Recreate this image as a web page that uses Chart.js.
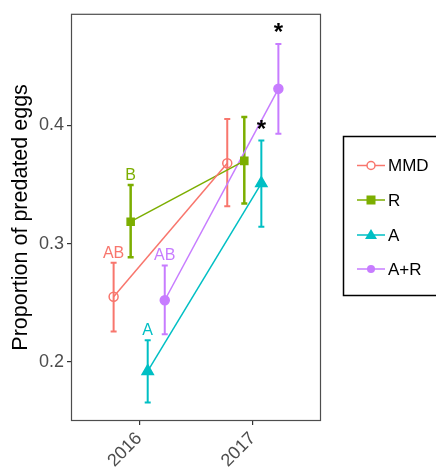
<!DOCTYPE html>
<html>
<head>
<meta charset="utf-8">
<script src="https://cdn.jsdelivr.net/npm/chart.js@4/dist/chart.umd.min.js"></script>
<style>
  html, body { margin: 0; padding: 0; background: #fff; }
  #wrap { width: 436px; height: 468px; }
</style>
</head>
<body>
<div id="wrap"><canvas id="chart" width="436" height="468"></canvas></div>
<script>
// -------------------- DATA --------------------
const years = ["2016", "2017"];
const groups = ["MMD", "R", "A", "A+R"];
const colors = ["#F8766D", "#7CAE00", "#00BFC4", "#C77CFF"];
const dodge = [-0.225, -0.075, 0.075, 0.225];

const meanMMD = [0.255, 0.368];
const meanR   = [0.3185, 0.370];
const meanA   = [0.192, 0.351];
const meanAR  = [0.252, 0.431];

const lowMMD = [0.2255, 0.3315];
const lowR   = [0.2885, 0.334];
const lowA   = [0.1655, 0.3143];
const lowAR  = [0.2233, 0.393];

const highMMD = [0.2838, 0.4055];
const highR   = [0.3496, 0.4071];
const highA   = [0.2182, 0.3872];
const highAR  = [0.2815, 0.469];

// letters over 2016, stars over 2017
const letters2016 = ["AB", "B", "A", "AB"];
const stars2017 = ["", "", "*", "*"];

const yTicks = [0.2, 0.3, 0.4];

const means = [meanMMD, meanR, meanA, meanAR];
const lows = [lowMMD, lowR, lowA, lowAR];
const highs = [highMMD, highR, highA, highAR];
const pointStyles = ["circle", "rect", "triangle", "circle"];
const filled = [false, true, true, true];

const FONT = "'Liberation Sans', Arial, sans-serif";

// -------------------- DATASETS --------------------
const datasets = groups.map((g, i) => ({
  label: g,
  data: years.map((y, j) => ({ x: j + dodge[i], y: means[i][j], lo: lows[i][j], hi: highs[i][j] })),
  showLine: true,
  borderColor: colors[i],
  borderWidth: 1.5,
  backgroundColor: filled[i] ? colors[i] : "#ffffff",
  pointStyle: pointStyles[i],
  pointRadius: i === 1 ? 5 : i === 2 ? 6.5 : 4.5,
  pointBorderWidth: 1.5,
  pointBorderColor: colors[i],
  pointBackgroundColor: filled[i] ? colors[i] : "rgba(0,0,0,0)",
}));

// -------------------- PLUGINS --------------------
const errorBars = {
  id: "errorBars",
  beforeDatasetsDraw(chart) {
    const { ctx, scales: { x, y } } = chart;
    ctx.save();
    chart.data.datasets.forEach((ds, i) => {
      ctx.strokeStyle = colors[i];
      ctx.lineWidth = i === 1 ? 2.5 : 2;
      ds.data.forEach((p) => {
        const px = x.getPixelForValue(p.x);
        const top = y.getPixelForValue(p.hi);
        const bot = y.getPixelForValue(p.lo);
        ctx.beginPath();
        ctx.moveTo(px, top); ctx.lineTo(px, bot);
        ctx.moveTo(px - 3, top); ctx.lineTo(px + 3, top);
        ctx.moveTo(px - 3, bot); ctx.lineTo(px + 3, bot);
        ctx.stroke();
      });
    });
    ctx.restore();
  },
};

const annotations = {
  id: "annotations",
  afterDatasetsDraw(chart) {
    const { ctx, scales: { x, y } } = chart;
    ctx.save();
    ctx.textAlign = "center";
    ctx.textBaseline = "alphabetic";
    chart.data.datasets.forEach((ds, i) => {
      const p0 = ds.data[0];
      if (letters2016[i]) {
        ctx.fillStyle = colors[i];
        ctx.font = "16px " + FONT;
        ctx.fillText(letters2016[i], x.getPixelForValue(p0.x), y.getPixelForValue(p0.hi) - 5);
      }
      const p1 = ds.data[1];
      if (stars2017[i]) {
        ctx.fillStyle = "#000";
        ctx.font = "bold 24px " + FONT;
        ctx.fillText(stars2017[i], x.getPixelForValue(p1.x), y.getPixelForValue(p1.hi) - 4);
      }
    });
    // panel border
    const a = chart.chartArea;
    ctx.strokeStyle = "#4d4d4d";
    ctx.lineWidth = 1.2;
    ctx.strokeRect(a.left + 0.5, a.top + 0.5, a.right - a.left - 1, a.bottom - a.top - 1);
    ctx.restore();
  },
};

const sideLegend = {
  id: "sideLegend",
  afterDraw(chart) {
    const { ctx } = chart;
    ctx.save();
    ctx.strokeStyle = "#000";
    ctx.lineWidth = 1.5;
    ctx.strokeRect(343.5, 136.5, 100, 159);
    const rowY = [165.5, 200, 235, 269];
    chart.data.datasets.forEach((ds, i) => {
      const yy = rowY[i];
      ctx.strokeStyle = colors[i];
      ctx.lineWidth = 1.5;
      ctx.beginPath();
      ctx.moveTo(357, yy); ctx.lineTo(385, yy);
      ctx.stroke();
      ctx.fillStyle = colors[i];
      ctx.beginPath();
      if (i === 0) {
        ctx.arc(371, yy, 4, 0, Math.PI * 2);
        ctx.fillStyle = "#fff"; ctx.fill(); ctx.stroke();
      } else if (i === 1) {
        ctx.fillRect(366.5, yy - 4.5, 9, 9);
      } else if (i === 2) {
        ctx.moveTo(371, yy - 6); ctx.lineTo(377, yy + 4); ctx.lineTo(365, yy + 4); ctx.closePath(); ctx.fill();
      } else {
        ctx.arc(371, yy, 4, 0, Math.PI * 2); ctx.fill();
      }
      ctx.fillStyle = "#000";
      ctx.font = "17px " + FONT;
      ctx.textAlign = "left";
      ctx.textBaseline = "middle";
      ctx.fillText(ds.label, 388, yy + 1);
    });
    ctx.restore();
  },
};

// -------------------- CHART --------------------
const ctx = document.getElementById("chart").getContext("2d");
new Chart(ctx, {
  type: "scatter",
  data: { datasets },
  options: {
    responsive: false,
    animation: false,
    layout: { padding: { left: 0, right: 115, top: 10, bottom: 0 } },
    plugins: { legend: { display: false }, tooltip: { enabled: false } },
    scales: {
      x: {
        type: "linear",
        min: -0.6,
        max: 1.6,
        afterBuildTicks: (s) => { s.ticks = years.map((_, j) => ({ value: j })); },
        afterFit: (s) => { s.height = 47; },
        ticks: {
          callback: (v) => years[v],
          color: "#4d4d4d",
          font: { family: FONT, size: 18 },
          minRotation: 45,
          maxRotation: 45,
          padding: 3,
        },
        grid: { drawOnChartArea: false, drawTicks: true, tickLength: 4, tickColor: "#333", lineWidth: 1.2 },
        border: { display: false },
      },
      y: {
        min: 0.1498,
        max: 0.4945,
        afterBuildTicks: (s) => { s.ticks = yTicks.map((v) => ({ value: v })); },
        afterFit: (s) => { s.width = 71; },
        ticks: {
          callback: (v) => v.toFixed(1),
          color: "#4d4d4d",
          font: { family: FONT, size: 18 },
          padding: 3,
        },
        title: {
          display: true,
          text: "Proportion of predated eggs",
          color: "#000",
          font: { family: FONT, size: 21.5 },
          padding: { top: 8, bottom: 0 },
        },
        grid: { drawOnChartArea: false, drawTicks: true, tickLength: 4, tickColor: "#333", lineWidth: 1.2 },
        border: { display: false },
      },
    },
  },
  plugins: [errorBars, annotations, sideLegend],
});
</script>
</body>
</html>
